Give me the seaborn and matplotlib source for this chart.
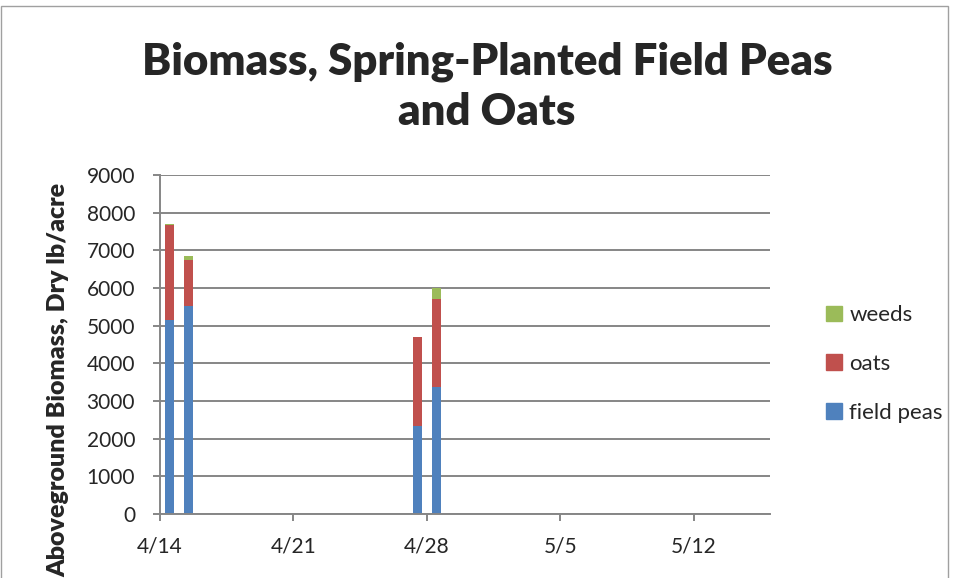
import pandas as pd
import matplotlib
matplotlib.use("Agg")
import matplotlib.pyplot as plt
from matplotlib.patches import Patch, Rectangle
import seaborn as sns

# sample dates as days after 4/14 (Excel date axis puts each bar mid-day)
days = [0, 1, 13, 14]
field_peas = [5160, 5510, 2330, 3380]
oats = [2500, 1230, 2360, 2340]
weeds = [40, 120, 0, 290]

tick_days = [0, 7, 14, 21, 28]
tick_labels = ["4/14", "4/21", "4/28", "5/5", "5/12"]

colors = {"field peas": "#4F81BD", "oats": "#C0504D", "weeds": "#9BBB59"}

df = pd.DataFrame({"day": [d + 0.5 for d in days],
                   "peas": field_peas, "oats": oats, "weeds": weeds})
df["peas_oats"] = df["peas"] + df["oats"]
df["total"] = df["peas_oats"] + df["weeds"]

sns.set_style("white")
plt.rcParams["font.family"] = ["Lato", "DejaVu Sans"]

fig = plt.figure(figsize=(9.57, 5.78), dpi=100)
ax = fig.add_axes([160 / 957, 1 - 514 / 578, 610 / 957, 339 / 578])

# layered bars -> stacked look
for col, name in [("total", "weeds"), ("peas_oats", "oats"), ("peas", "field peas")]:
    sns.barplot(data=df, x="day", y=col, native_scale=True, width=0.47,
                color=colors[name], saturation=1, linewidth=0, ax=ax)

ax.set_xlim(0, 32)
ax.set_ylim(0, 9000)
ax.set_yticks(range(0, 9001, 1000))
ax.set_xticks(tick_days)
ax.set_xticklabels(tick_labels)
ax.set_xlabel("")
ax.set_ylabel("Aboveground Biomass, Dry lb/acre", fontsize=18, fontweight="heavy")
ax.yaxis.set_label_coords(-0.148, 0.395)
ax.yaxis.grid(True, color="#868686", linewidth=1.4)
ax.set_axisbelow(True)
ax.tick_params(axis="both", labelsize=15, length=5, width=1.4, color="#868686",
               direction="out", left=True, bottom=True)
ax.tick_params(axis="y", pad=13)
ax.tick_params(axis="x", pad=11)
sns.despine(ax=ax, top=True, right=True)
for s in ["left", "bottom"]:
    ax.spines[s].set_color("#868686")
    ax.spines[s].set_linewidth(1.4)

fig.text(0.509, 0.850, "Biomass, Spring-Planted Field Peas\nand Oats", ha="center",
         va="center", fontsize=31.5, fontweight="heavy", linespacing=1.3)

handles = [Patch(color=colors[n], label=n) for n in ["weeds", "oats", "field peas"]]
fig.legend(handles=handles, loc="center left", bbox_to_anchor=(806 / 957, 1 - 364 / 578),
           frameon=False, fontsize=16, labelspacing=1.3, handlelength=0.7,
           handleheight=0.7, handletextpad=0.35)

fig.patches.append(Rectangle((0.001, -0.01), 0.99, 1.0, transform=fig.transFigure,
                             fill=False, edgecolor="#A0A0A0", linewidth=1))

fig.savefig("out.png", dpi=100)
